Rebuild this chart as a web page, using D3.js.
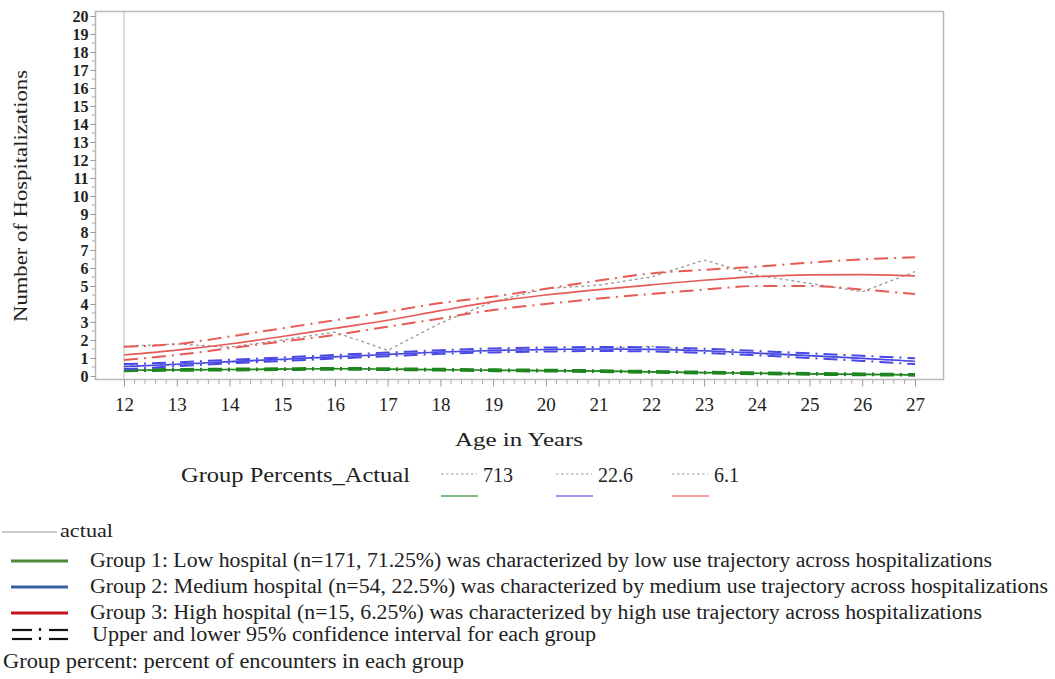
<!DOCTYPE html>
<html><head><meta charset="utf-8">
<script src="https://cdn.jsdelivr.net/npm/d3@7"></script>
<style>
body{margin:0;background:#fff;}
svg text{font-family:'Liberation Serif','DejaVu Serif','Noto Serif','Noto Serif CJK SC',serif !important;fill:#222;}
</style></head>
<body><svg id="c" width="1055" height="679"></svg>
<script>
const ages = [12,13,14,15,16,17,18,19,20,21,22,23,24,25,26,27];
const yTicks = [0,1,2,3,4,5,6,7,8,9,10,11,12,13,14,15,16,17,18,19,20];
// Group 1 (low)
const g1Fit   = [0.32,0.34,0.36,0.38,0.40,0.38,0.35,0.32,0.30,0.27,0.23,0.19,0.15,0.12,0.09,0.06];
const g1Upper = [0.37,0.39,0.41,0.43,0.45,0.43,0.40,0.37,0.35,0.32,0.28,0.24,0.20,0.17,0.14,0.11];
const g1Lower = [0.27,0.29,0.31,0.33,0.35,0.33,0.30,0.27,0.25,0.22,0.18,0.14,0.10,0.07,0.04,0.02];
const g1Actual= [0.32,0.33,0.35,0.39,0.42,0.37,0.35,0.32,0.30,0.28,0.23,0.18,0.16,0.12,0.09,0.06];
// Group 2 (medium)
const g2Fit   = [0.52,0.65,0.80,0.93,1.07,1.20,1.33,1.42,1.47,1.50,1.48,1.40,1.27,1.13,0.98,0.82];
const g2Upper = [0.66,0.76,0.90,1.03,1.17,1.30,1.43,1.53,1.58,1.61,1.60,1.52,1.39,1.26,1.12,0.98];
const g2Lower = [0.38,0.54,0.70,0.83,0.97,1.10,1.23,1.31,1.36,1.39,1.36,1.28,1.15,1.00,0.84,0.66];
const g2Actual= [0.55,0.62,0.78,0.90,1.05,1.20,1.33,1.42,1.47,1.50,1.65,1.38,1.25,1.12,0.98,0.82];
// Group 3 (high)
const g3Fit   = [1.17,1.44,1.78,2.19,2.65,3.10,3.63,4.13,4.50,4.80,5.06,5.32,5.52,5.62,5.63,5.56];
const g3Upper = [1.63,1.78,2.19,2.65,3.10,3.57,4.05,4.41,4.85,5.30,5.70,5.90,6.07,6.30,6.48,6.60];
const g3Lower = [0.89,1.17,1.54,1.91,2.28,2.74,3.20,3.67,4.00,4.30,4.56,4.80,5.00,5.00,4.80,4.56];
const g3Actual= [1.65,1.78,1.60,2.00,2.44,1.42,2.94,4.13,4.85,5.05,5.50,6.44,5.60,5.15,4.68,5.80];

const groupPercents = ["713","22.6","6.1"];
const legendNotes = [
 "Group 1: Low hospital (n=171, 71.25%) was characterized by low use trajectory across hospitalizations",
 "Group 2: Medium hospital (n=54, 22.5%) was characterized by medium use trajectory across hospitalizations",
 "Group 3: High hospital (n=15, 6.25%) was characterized by high use trajectory across hospitalizations"
];

const svg = d3.select("#c");
const x = d3.scaleLinear().domain([12,27]).range([124,915]);
const y = d3.scaleLinear().domain([0,20]).range([376,16]);

// frame
svg.append("rect").attr("x",95.5).attr("y",11.5).attr("width",848).attr("height",368)
  .attr("fill","none").attr("stroke","#b8b8b8").attr("stroke-width",1.5);
svg.append("line").attr("x1",x(12)).attr("x2",x(12)).attr("y1",12).attr("y2",379)
  .attr("stroke","#c4c4c4").attr("stroke-width",1.2);

// y axis
const yAxis = d3.axisLeft(y).tickValues(yTicks).tickFormat(d3.format("d")).tickSize(5).tickPadding(2);
const ga = svg.append("g").attr("transform","translate(95.5,0)").call(yAxis);
ga.select(".domain").remove();
ga.selectAll("line").attr("stroke","#999");
ga.selectAll("text").style("font-size","16px").style("font-weight","bold").attr("fill","#222");
const yMinor = d3.range(0.5,20,1);
svg.append("g").selectAll("line").data(yMinor).join("line")
  .attr("x1",92).attr("x2",95.5).attr("y1",d=>y(d)).attr("y2",d=>y(d)).attr("stroke","#aaa");

// x axis
const xAxis = d3.axisBottom(x).tickValues(ages).tickFormat(d3.format("d")).tickSize(7).tickPadding(11);
const gx = svg.append("g").attr("transform","translate(0,379.5)").call(xAxis);
gx.select(".domain").remove();
gx.selectAll("line").attr("stroke","#999");
gx.selectAll("text").style("font-size","19px").attr("fill","#222");
const xMinor = d3.range(12,27,0.2).filter(v=>Math.abs(v-Math.round(v))>0.05);
svg.append("g").selectAll("line").data(xMinor).join("line")
  .attr("x1",d=>x(d)).attr("x2",d=>x(d)).attr("y1",379.5).attr("y2",384).attr("stroke","#aaa");

// axis titles
svg.append("text").attr("transform","translate(27,196) rotate(-90)").attr("text-anchor","middle")
  .style("font-size","19px").attr("textLength",252).attr("lengthAdjust","spacingAndGlyphs").text("Number of Hospitalizations");
svg.append("text").attr("x",519).attr("y",446).attr("text-anchor","middle")
  .style("font-size","19px").attr("textLength",128).attr("lengthAdjust","spacingAndGlyphs").text("Age in Years");

// series
const groups = [
  {fit:g1Fit, up:g1Upper, lo:g1Lower, act:g1Actual, color:"#1f861f"},
  {fit:g2Fit, up:g2Upper, lo:g2Lower, act:g2Actual, color:"#4848e6"},
  {fit:g3Fit, up:g3Upper, lo:g3Lower, act:g3Actual, color:"#e85a55"}
];
const smooth = d3.line().x((d,i)=>x(ages[i])).y(d=>y(d)).curve(d3.curveMonotoneX);
const straight = d3.line().x((d,i)=>x(ages[i])).y(d=>y(d));
const plot = svg.append("g");
groups.forEach(g=>{
  plot.append("path").attr("d",straight(g.act)).attr("fill","none")
    .attr("stroke","#9a9a9a").attr("stroke-width",1.3).attr("stroke-dasharray","3,3");
  [g.up,g.lo].forEach(arr=>{
    plot.append("path").attr("d",smooth(arr)).attr("fill","none")
      .attr("stroke",g.color).attr("stroke-width",2).attr("stroke-dasharray","14,6,2,6");
  });
  plot.append("path").attr("d",smooth(g.fit)).attr("fill","none")
    .attr("stroke",g.color).attr("stroke-width",1.6);
});

// inline legend
svg.append("text").attr("x",181).attr("y",482).style("font-size","20px")
  .attr("textLength",229).attr("lengthAdjust","spacingAndGlyphs").text("Group Percents_Actual");
const lx = [441,556,672];
groupPercents.forEach((p,i)=>{
  svg.append("line").attr("x1",lx[i]).attr("x2",lx[i]+36).attr("y1",474).attr("y2",474)
    .attr("stroke","#a0a0a0").attr("stroke-width",1.2).attr("stroke-dasharray","2.5,2.5");
  svg.append("text").attr("x",lx[i]+42).attr("y",482).style("font-size","20px").text(p);
  svg.append("line").attr("x1",lx[i]).attr("x2",lx[i]+37).attr("y1",496).attr("y2",496)
    .attr("stroke",groups[i].color).attr("stroke-width",1.6).attr("opacity",0.75);
});

// bottom legend
svg.append("line").attr("x1",2).attr("x2",57).attr("y1",532).attr("y2",532).attr("stroke","#999").attr("stroke-width",1);
svg.append("text").attr("x",60).attr("y",537).style("font-size","19px").attr("textLength",53).attr("lengthAdjust","spacingAndGlyphs").text("actual");
const noteColors = ["#4f8a38","#3a5e9e","#c0141e"];
const noteEnds = [992,1048,982];
legendNotes.forEach((t,i)=>{
  const yy = 561 + i*26;
  svg.append("line").attr("x1",11).attr("x2",68).attr("y1",yy).attr("y2",yy)
    .attr("stroke",noteColors[i]).attr("stroke-width",3);
  svg.append("text").attr("x",90).attr("y",yy+6).style("font-size","20px")
    .attr("textLength",noteEnds[i]-90).attr("lengthAdjust","spacingAndGlyphs").text(t);
});
// CI symbol
const ci = svg.append("g").attr("stroke","#111").attr("stroke-width",2.2);
[[12,32],[49,68]].forEach(([a,b])=>{
  ci.append("line").attr("x1",a).attr("x2",b).attr("y1",630).attr("y2",630);
  ci.append("line").attr("x1",a).attr("x2",b).attr("y1",639).attr("y2",639);
});
ci.append("line").attr("x1",40).attr("x2",40).attr("y1",628).attr("y2",631);
ci.append("line").attr("x1",40).attr("x2",40).attr("y1",637).attr("y2",640);
svg.append("text").attr("x",92).attr("y",641).style("font-size","20px")
  .attr("textLength",504).attr("lengthAdjust","spacingAndGlyphs").text("Upper and lower 95% confidence interval for each group");
svg.append("text").attr("x",3).attr("y",668).style("font-size","20px")
  .attr("textLength",461).attr("lengthAdjust","spacingAndGlyphs").text("Group percent: percent of encounters in each group");
</script></body></html>
